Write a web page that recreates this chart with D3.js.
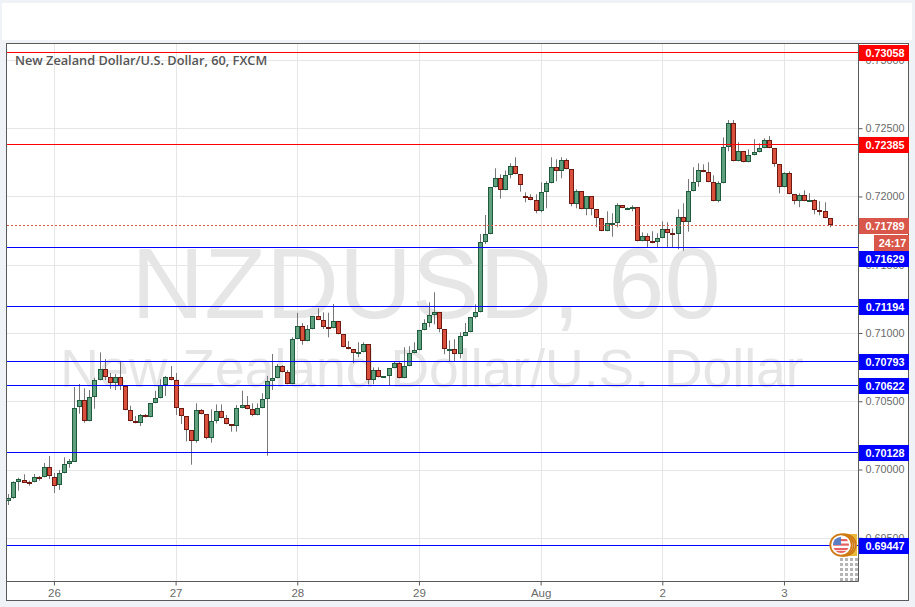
<!DOCTYPE html>
<html><head><meta charset="utf-8">
<script src="https://cdn.jsdelivr.net/npm/d3@7"></script>
<style>
html,body{margin:0;padding:0;background:#eff3f7;}
svg{display:block;}
text{font-family:"Liberation Sans",Arial,sans-serif;}
</style></head><body>
<div id="chart"></div>
<script>
// Values are in 1/100000 of a US dollar.
const opens=[69764,69786,69903,69925,69908,69906,69944,69943,70016,69947,
69884,69972,70038,70060,70453,70507,70353,70529,70653,70734,
70675,70628,70675,70609,70434,70353,70338,70397,70382,70485,
70521,70619,70675,70653,70448,70390,70287,70206,70434,70404,
70228,70353,70426,70375,70331,70316,70448,70470,70441,70397,
70448,70514,70646,70668,70756,70712,70624,70954,71049,70939,
71027,71122,71093,71042,71034,71085,70990,70895,70880,70851,
70858,70917,70653,70726,70675,70683,70741,70778,70668,70756,
70851,70873,71020,71071,71129,71151,71027,70880,70880,70844,
70976,71005,71115,71151,71664,71723,72067,72133,72045,72155,
72221,72162,72001,71994,71972,71891,72030,72096,72214,72184,
72265,72199,71942,72038,71906,72001,71906,71840,71745,71802,
71803,71935,71912,71913,71921,71671,71708,71671,71664,71694,
71759,71730,71723,71847,71811,72038,72104,72192,72177,72104,
71965,72096,72360,72536,72257,72331,72250,72301,72323,72353,
72411,72353,72235,72067,72170,72016,71965,72008,71965,71972,
71899,71891,71840];
const highs=[69820,69913,69940,69965,69918,69967,69952,70048,70099,69974,
69996,70089,70077,70604,70626,70595,70582,70672,70858,70809,
70707,70699,70790,70609,70467,70392,70406,70406,70485,70577,
70661,70685,70758,70707,70448,70390,70287,70485,70443,70404,
70441,70477,70477,70399,70331,70472,70577,70538,70485,70485,
70558,70685,70846,70773,70765,70729,70968,71148,71073,71058,
71122,71181,71151,71148,71212,71085,70990,70941,70880,70932,
70932,70917,70748,70748,70683,70741,70792,70792,70895,70902,
70932,71020,71100,71225,71298,71151,71027,70946,70954,71005,
71073,71115,71210,71725,71864,72067,72206,72162,72189,72243,
72287,72162,72030,72016,72016,72104,72111,72287,72272,72287,
72279,72199,72052,72038,72001,72001,71906,71840,71891,71877,
71950,71935,71920,71935,71921,71737,71730,71745,71730,71818,
71811,71767,71906,71950,72128,72214,72243,72235,72250,72155,
72111,72433,72560,72560,72397,72331,72345,72419,72389,72426,
72443,72353,72235,72177,72184,72016,72023,72045,72023,71981,
71965,71957,71840];
const lows=[69740,69786,69845,69903,69881,69906,69918,69943,69930,69828,
69850,69972,70013,70060,70409,70343,70353,70445,70653,70655,
70590,70582,70582,70434,70353,70338,70318,70382,70382,70485,
70521,70538,70653,70399,70333,70206,70035,70196,70404,70221,
70196,70338,70375,70331,70277,70277,70448,70441,70390,70397,
70448,70101,70582,70668,70712,70624,70624,70954,70914,70939,
71027,71093,71029,70968,71034,70990,70895,70880,70778,70822,
70858,70624,70624,70675,70675,70617,70741,70668,70668,70756,
70851,70873,71020,71042,71063,71005,70844,70792,70792,70814,
70976,71005,71107,71151,71652,71723,72067,71984,72045,72133,
72162,72035,71957,71972,71877,71884,71913,72096,72111,72133,
72199,71928,71913,71906,71862,71862,71774,71745,71745,71705,
71774,71913,71908,71891,71671,71671,71628,71657,71628,71694,
71628,71628,71613,71603,71742,72038,72071,72177,72104,71965,
71957,72096,72331,72257,72257,72250,72250,72301,72323,72353,
72353,72218,72023,72067,72016,71942,71921,71965,71965,71869,
71862,71840,71774];
const closes=[69789,69906,69928,69903,69905,69943,69942,70016,69947,69884,
69972,70038,70060,70453,70507,70353,70529,70653,70734,70675,
70628,70675,70609,70434,70353,70338,70397,70382,70485,70521,
70619,70675,70653,70448,70390,70287,70206,70434,70404,70228,
70353,70426,70375,70331,70316,70448,70470,70441,70397,70448,
70514,70646,70668,70756,70712,70624,70954,71049,70939,71027,
71122,71093,71042,71034,71085,70990,70895,70880,70851,70858,
70917,70653,70726,70675,70683,70741,70778,70668,70756,70851,
70873,71020,71071,71129,71151,71027,70880,70882,70844,70976,
71005,71115,71151,71664,71723,72067,72133,72045,72155,72221,
72162,72082,71994,71972,71891,72030,72096,72214,72184,72265,
72199,71942,72038,71906,72001,71906,71840,71745,71803,71804,
71935,71913,71914,71921,71671,71708,71671,71664,71694,71759,
71730,71723,71847,71811,72038,72104,72192,72177,72104,71965,
72096,72360,72536,72257,72331,72250,72301,72323,72353,72411,
72353,72235,72067,72170,72016,71965,72008,71965,71972,71899,
71891,71840,71789];

const priceTicks=[0.695,0.70,0.705,0.71,0.715,0.72,0.725,0.73];
const dayIndex=[9,33,57,81,105,129,153];
const dayLabels=["26","27","28","29","Aug","2","3"];
const levelPrices=[0.73058,0.72385,0.71629,0.71194,0.70793,0.70622,0.70128,0.69447];
const levelColors=["#ff0000","#ff0000","#0000ff","#0000ff","#0000ff","#0000ff","#0000ff","#0000ff"];
const levelLabelShift=[0,0,11,0,0,0,0,0];
const lastPrice=0.71789;
const countdown="24:17";
const titleText="New Zealand Dollar/U.S. Dollar, 60, FXCM";
const watermarkBig="NZDUSD, 60";
const watermarkSmall="New Zealand Dollar/U.S. Dollar";

const W=915,H=607;
const plot={l:7,r:858,t:44,b:581};
const svg=d3.select("#chart").append("svg").attr("width",W).attr("height",H);
const y=d3.scaleLinear().domain([0.73058,0.69447]).range([52,545]);
const x=d3.scaleLinear().domain([0,162]).range([8.3,829.6]);
const py=v=>Math.round(y(v))+0.5;

svg.append("rect").attr("width",W).attr("height",H).attr("fill","#eff3f7");
svg.append("rect").attr("x",2).attr("y",3).attr("width",910).attr("height",37).attr("fill","#fff");
svg.append("rect").attr("x",6.5).attr("y",43.5).attr("width",902).attr("height",557).attr("fill","#fff").attr("stroke","#5a5a5a");

svg.append("defs").append("clipPath").attr("id","plotClip").append("rect")
 .attr("x",plot.l).attr("y",plot.t).attr("width",plot.r-plot.l).attr("height",plot.b-plot.t);
const g=svg.append("g").attr("clip-path","url(#plotClip)");

// watermark
g.append("text").attr("x",426).attr("y",318).attr("text-anchor","middle")
 .attr("font-size",101).attr("fill","#e6e6e6").text(watermarkBig);
g.append("text").attr("x",432).attr("y",387).attr("text-anchor","middle")
 .attr("font-size",53.5).attr("fill","#e6e6e6").text(watermarkSmall);

// grid
g.selectAll("line.h").data(priceTicks).join("line").attr("class","h")
 .attr("x1",plot.l).attr("x2",plot.r).attr("y1",py).attr("y2",py)
 .attr("stroke","#e6e6e6");
g.selectAll("line.v").data(dayIndex).join("line").attr("class","v")
 .attr("y1",plot.t).attr("y2",plot.b)
 .attr("x1",d=>Math.round(x(d))+0.5).attr("x2",d=>Math.round(x(d))+0.5)
 .attr("stroke","#e6e6e6");

// candles
const candles=opens.map((o,i)=>({i,o:o/1e5,h:highs[i]/1e5,l:lows[i]/1e5,c:closes[i]/1e5}));
const cg=g.selectAll("g.c").data(candles).join("g").attr("class","c");
cg.append("line")
 .attr("x1",d=>Math.round(x(d.i))+0.5).attr("x2",d=>Math.round(x(d.i))+0.5)
 .attr("y1",d=>y(d.h)).attr("y2",d=>y(d.l)).attr("stroke","#777");
cg.append("rect")
 .attr("x",d=>Math.round(x(d.i))-1.5)
 .attr("width",4)
 .attr("y",d=>Math.round(y(Math.max(d.o,d.c)))+0.5)
 .attr("height",d=>Math.max(1,Math.round(Math.abs(y(d.o)-y(d.c)))-1))
 .attr("fill",d=>d.c>=d.o?"#5fa07e":"#d9503c")
 .attr("stroke",d=>d.c>=d.o?"#1f5a3c":"#6e1a12");

// levels
g.selectAll("line.lv").data(levelPrices).join("line").attr("class","lv")
 .attr("x1",plot.l).attr("x2",plot.r)
 .attr("y1",py).attr("y2",py)
 .attr("stroke",(d,i)=>levelColors[i]);
g.append("line").attr("x1",plot.l).attr("x2",plot.r)
 .attr("y1",py(lastPrice)).attr("y2",py(lastPrice))
 .attr("stroke","#d9574a").attr("stroke-dasharray","2,2");

// title
svg.append("text").attr("x",15).attr("y",65)
 .style("font-family","'Open Sans',sans-serif")
 .attr("font-size",12.75).attr("font-weight",600).attr("fill","#555").text(titleText);

// event badges
const badgeX=[845,843,841];
const dotColX=[841,846,851,856];
const dotRowY=[559,564,569,574,579];
const by=y(0.69447);
svg.append("rect").attr("x",845).attr("y",by-11).attr("width",12).attr("height",22).attr("fill","#e8b93a");
const dots=svg.append("g").attr("fill","#b5b5b5");
dotColX.forEach(cx=>dotRowY.forEach(ry=>dots.append("rect").attr("x",cx-1).attr("y",ry-1).attr("width",3).attr("height",3)));
svg.select("defs").append("clipPath").attr("id","flagClip").append("circle").attr("cx",841).attr("cy",by).attr("r",8);
svg.selectAll("circle.b").data(badgeX).join("circle").attr("class","b")
 .attr("cx",d=>d).attr("cy",by).attr("r",10.7).attr("fill","#fff").attr("stroke","#cf7a14").attr("stroke-width",1.8);
const flag=svg.append("g").attr("clip-path","url(#flagClip)");
flag.append("rect").attr("x",833).attr("y",by-8).attr("width",16).attr("height",16).attr("fill","#fff");
[-6,-1.5,3,6].forEach(s=>flag.append("rect").attr("x",833).attr("y",by+s).attr("width",16).attr("height",2.2).attr("fill","#e5605f"));
flag.append("rect").attr("x",833).attr("y",by-8).attr("width",8).attr("height",8).attr("fill","#5b7fc4");

// right axis
const axR=svg.append("g").attr("transform",`translate(${plot.r+0.5},0)`)
 .call(d3.axisRight(y).tickValues(priceTicks).tickFormat(d3.format(".5f")).tickSize(4).tickPadding(3));
axR.select(".domain").attr("stroke","#5a5a5a").attr("d",`M0,${plot.t-0.5}V${plot.b+0.5}`);
axR.selectAll(".tick line").attr("stroke","#5a5a5a");
axR.selectAll("text").attr("font-size",10.8).attr("fill","#6a6a6a").style("font-family","'Liberation Sans',sans-serif");

// bottom axis
const axB=svg.append("g").attr("transform",`translate(0,${plot.b+0.5})`)
 .call(d3.axisBottom(x).tickValues(dayIndex).tickFormat((d,i)=>dayLabels[i]).tickSize(4).tickPadding(3));
axB.select(".domain").attr("stroke","#5a5a5a").attr("d",`M${plot.l-0.5},0H${plot.r+0.5}`);
axB.selectAll(".tick line").attr("stroke","#5a5a5a");
axB.selectAll("text").attr("font-size",11.5).attr("fill","#6a6a6a").style("font-family","'Liberation Sans',sans-serif");

// price labels
const boxes=svg.append("g");
function box(x0,cy,txt,col,w){
 boxes.append("rect").attr("x",x0).attr("y",cy-7).attr("width",w).attr("height",16).attr("fill",col);
 boxes.append("text").attr("x",x0+w/2+1).attr("y",cy+5).attr("text-anchor","middle")
  .attr("font-size",10.8).attr("font-weight",700).attr("fill","#fff").text(txt);
}
levelPrices.forEach((p,i)=>box(plot.r+1,Math.round(y(p))+levelLabelShift[i],d3.format(".5f")(p),levelColors[i],50));
box(plot.r+1,Math.round(y(lastPrice)),d3.format(".5f")(lastPrice),"#d9574a",50);
box(874,Math.round(y(lastPrice))+17,countdown,"#d9574a",35);
</script></body></html>
